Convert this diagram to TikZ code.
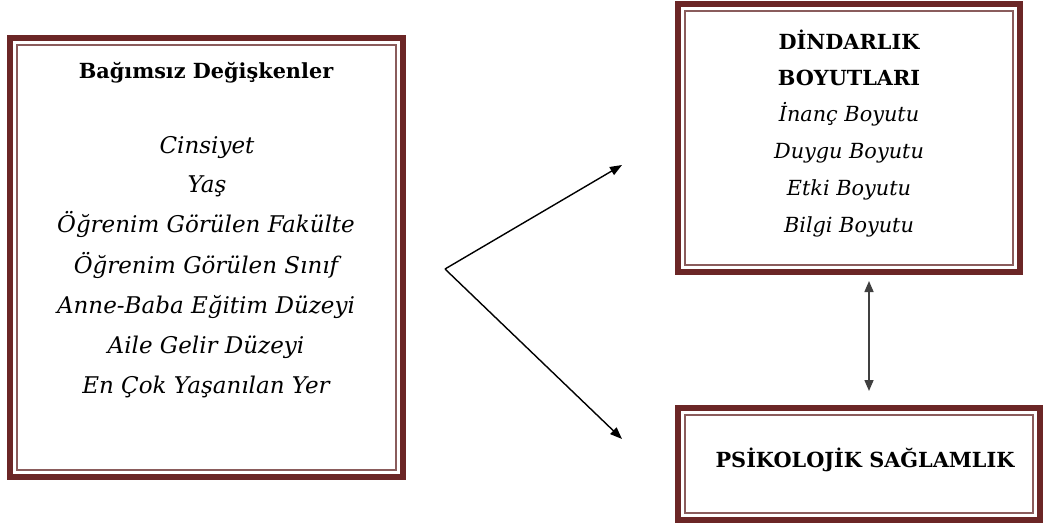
\documentclass[tikz,border=0pt]{standalone}
\usepackage{fontspec}
\setmainfont{DejaVu Serif}
\usetikzlibrary{arrows.meta}
\definecolor{maroon}{HTML}{6B2626}
\definecolor{innerln}{HTML}{8A5C5C}
\tikzset{
  framebox/.style={draw=maroon, line width=6pt, inner sep=0pt, outer sep=0pt},
  innerframe/.style={draw=innerln, line width=2.2pt},
  txt/.style={inner sep=0pt, text height=0.75em, text depth=0.25em},
  lbl/.style={txt, font=\fontsize{23}{26}\selectfont\itshape},
  rlbl/.style={txt, font=\fontsize{20.8}{24}\selectfont\itshape},
  head/.style={txt, font=\fontsize{20.8}{24}\selectfont\bfseries},
  arr/.style={line width=1.4pt, -{Triangle[length=12pt,width=9pt]}},
  darr/.style={line width=1.5pt, draw=black!75, {Triangle[length=11pt,width=9pt]}-{Triangle[length=11pt,width=9pt]}}
}
\begin{document}
\begin{tikzpicture}[x=1pt,y=-1pt]
\useasboundingbox (0,0) rectangle (1052,527);
% boxes
\node[framebox, minimum width=393pt, minimum height=439pt] (lb) at (206.5,257.5) {};
\node[framebox, minimum width=342pt, minimum height=268pt] (tb) at (849,138) {};
\node[framebox, minimum width=362pt, minimum height=112pt] (bb) at (859,464) {};
\foreach \b in {lb,tb,bb}{
  \draw[innerframe] ([shift={(7pt,-7pt)}]\b.north west) rectangle ([shift={(-7pt,7pt)}]\b.south east);
}
% left texts
\node[head] (h1) at (206,76) {Bağımsız Değişkenler};
\node[lbl] (l1) at (207,151) {Cinsiyet};
\node[lbl] (l2) at (207,190) {Yaş};
\node[lbl] (l3) at (206,230) {Öğrenim Görülen Fakülte};
\node[lbl] (l4) at (206,271) {Öğrenim Görülen Sınıf};
\node[lbl] (l5) at (206,311) {Anne-Baba Eğitim Düzeyi};
\node[lbl] (l6) at (206,351) {Aile Gelir Düzeyi};
\node[lbl] (l7) at (206,391) {En Çok Yaşanılan Yer};
% top right texts
\node[head] (d1) at (849,47) {DİNDARLIK};
\node[head] (d2) at (849,83) {BOYUTLARI};
\node[rlbl] (d3) at (849,119) {İnanç Boyutu};
\node[rlbl] (d4) at (849,156) {Duygu Boyutu};
\node[rlbl] (d5) at (849,193) {Etki Boyutu};
\node[rlbl] (d6) at (849,230) {Bilgi Boyutu};
% bottom right text
\node[head] (p1) at (865,465) {PSİKOLOJİK SAĞLAMLIK};
% arrows
\coordinate (apex) at (445,269);
\coordinate (t1) at (622,165);
\coordinate (t2) at (622,439);
\draw[arr] (apex) -- (t1);
\draw[arr] (apex) -- (t2);
\coordinate (v1) at (869,281);
\coordinate (v2) at (869,391);
\draw[darr] (v1) -- (v2);
\end{tikzpicture}
\end{document}
